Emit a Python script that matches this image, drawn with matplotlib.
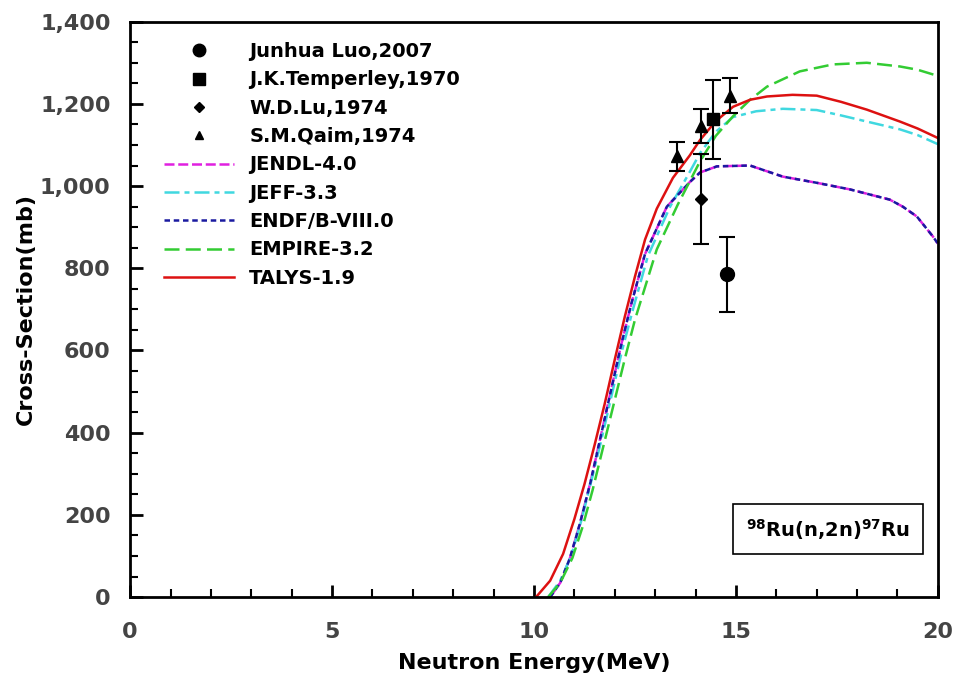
import numpy as np
import matplotlib
matplotlib.use("Agg")
import matplotlib.pyplot as plt
from matplotlib.ticker import MultipleLocator, FuncFormatter

# experimental data (MeV, mb, err)
luo_e = [14.77]; luo_y = [785]; luo_err = [92]
temp_e = [14.42]; temp_y = [1162]; temp_err = [95]
lu_e = [14.13]; lu_y = [968]; lu_err = [110]
qaim_e = [13.53, 14.13, 14.85]; qaim_y = [1072, 1146, 1220]; qaim_err = [35, 42, 42]

# evaluated libraries
talys_e = [10.05, 10.4, 10.72, 11.0, 11.25, 11.5, 11.75, 12.0, 12.25, 12.5, 12.75, 13.04, 13.44, 13.86,
           14.11, 14.5, 14.93, 15.35, 15.77, 16.4, 17.0, 17.6, 18.24, 19.06, 19.5, 20.0]
talys_y = [0, 40, 105, 190, 275, 370, 470, 578, 683, 780, 870, 945, 1020, 1075,
           1112, 1158, 1193, 1210, 1218, 1222, 1220, 1205, 1186, 1157, 1140, 1117]

jeff_e = [10.35, 10.65, 10.92, 11.16, 11.4, 11.65, 11.92, 12.18, 12.45, 12.82, 13.37, 13.86, 14.11,
          14.5, 14.93, 15.5, 16.16, 17.0, 17.6, 18.24, 19.06, 19.5, 20.0]
jeff_y = [0, 40, 100, 182, 275, 375, 490, 600, 700, 830, 950, 1035, 1080,
          1132, 1168, 1182, 1188, 1185, 1172, 1157, 1138, 1124, 1102]

endf_e = [10.4, 10.65, 10.89, 11.14, 11.4, 11.65, 11.9, 12.15, 12.4, 12.75, 13.29, 13.86, 14.11,
          14.53, 15.35, 16.16, 17.0, 17.82, 18.81, 19.13, 19.48, 19.88, 20.0]
endf_y = [0, 35, 95, 180, 280, 390, 500, 610, 710, 835, 950, 1010, 1033,
          1048, 1050, 1023, 1008, 992, 967, 950, 926, 877, 860]
jendl_e = endf_e
jendl_y = endf_y

empire_e = [10.35, 10.65, 10.95, 11.2, 11.45, 11.7, 11.95, 12.25, 12.5, 13.04, 13.56, 14.11, 14.5, 14.93,
            15.35, 15.77, 16.58, 17.4, 18.24, 19.06, 19.5, 20.0]
empire_y = [0, 35, 95, 170, 260, 360, 460, 580, 675, 846, 955, 1060, 1122, 1170,
            1210, 1242, 1279, 1296, 1300, 1291, 1283, 1268]

plt.rcParams['font.family'] = ['DejaVu Sans']
fig = plt.figure(figsize=(9.57, 6.77), dpi=100)
ax = fig.add_axes([0.136, 0.118, 0.844, 0.85])

lw = 1.8
ax.plot(jendl_e, jendl_y, color='#e020e0', lw=lw, ls=(0, (4, 1.5)), label='JENDL-4.0')
ax.plot(jeff_e, jeff_y, color='#40d8e0', lw=lw, ls=(0, (6, 2, 2, 2)), label='JEFF-3.3')
ax.plot(endf_e, endf_y, color='#1a1aa0', lw=lw, ls=(0, (2.2, 1.5)), label='ENDF/B-VIII.0')
ax.plot(empire_e, empire_y, color='#33cc33', lw=lw, ls=(0, (6, 2.5)), label='EMPIRE-3.2')
ax.plot(talys_e, talys_y, color='#dd1111', lw=lw, ls='-', label='TALYS-1.9')

ekw = dict(ls='none', color='black', ecolor='black', elinewidth=1.5, capsize=6, capthick=1.5)
ax.errorbar(luo_e, luo_y, yerr=luo_err, marker='o', ms=10, **ekw)
ax.errorbar(temp_e, temp_y, yerr=temp_err, marker='s', ms=9, **ekw)
ax.errorbar(lu_e, lu_y, yerr=lu_err, marker='D', ms=6, **ekw)
ax.errorbar(qaim_e, qaim_y, yerr=qaim_err, marker='^', ms=8, **ekw)

ax.set_xlim(0, 20)
ax.set_ylim(0, 1400)
ax.xaxis.set_major_locator(MultipleLocator(5))
ax.xaxis.set_minor_locator(MultipleLocator(1))
ax.yaxis.set_major_locator(MultipleLocator(200))
ax.yaxis.set_minor_locator(MultipleLocator(50))
ax.yaxis.set_major_formatter(FuncFormatter(lambda v, p: f"{int(v):,}"))
ax.tick_params(which='major', direction='in', length=9, width=2, labelsize=16, colors='black', labelcolor='#444444')
ax.tick_params(axis='x', which='major', pad=18)
ax.tick_params(axis='y', which='major', pad=14)
ax.tick_params(which='minor', direction='in', length=6, width=1.5)
for lab in ax.get_xticklabels() + ax.get_yticklabels():
    lab.set_fontweight('bold')
for sp in ax.spines.values():
    sp.set_linewidth(2)

ax.set_xlabel('Neutron Energy(MeV)', fontsize=16, fontweight='bold', labelpad=8)
ax.set_ylabel('Cross-Section(mb)', fontsize=16, fontweight='bold', labelpad=3)

h1m = plt.Line2D([], [], ls='none', marker='o', ms=9, color='black')
h2m = plt.Line2D([], [], ls='none', marker='s', ms=8, color='black')
h3m = plt.Line2D([], [], ls='none', marker='D', ms=5, color='black')
h4m = plt.Line2D([], [], ls='none', marker='^', ms=6, color='black')
leg_handles = [h1m, h2m, h3m, h4m] + ax.get_legend_handles_labels()[0][:5]
leg_labels = ['Junhua Luo,2007', 'J.K.Temperley,1970', 'W.D.Lu,1974', 'S.M.Qaim,1974',
              'JENDL-4.0', 'JEFF-3.3', 'ENDF/B-VIII.0', 'EMPIRE-3.2', 'TALYS-1.9']
ax.legend(leg_handles, leg_labels, loc='upper left', bbox_to_anchor=(0.02, 0.995),
          frameon=False, prop={'weight': 'bold', 'size': 14}, handlelength=3.6,
          labelspacing=0.48, handletextpad=0.8)

ax.text(0.864, 0.118, r'$\mathbf{^{98}}$Ru(n,2n)$\mathbf{^{97}}$Ru', transform=ax.transAxes,
        ha='center', va='center', fontsize=14, fontweight='bold',
        bbox=dict(boxstyle='square,pad=0.65', facecolor='white', edgecolor='black', lw=1.2))

fig.savefig('out.png', dpi=100)
